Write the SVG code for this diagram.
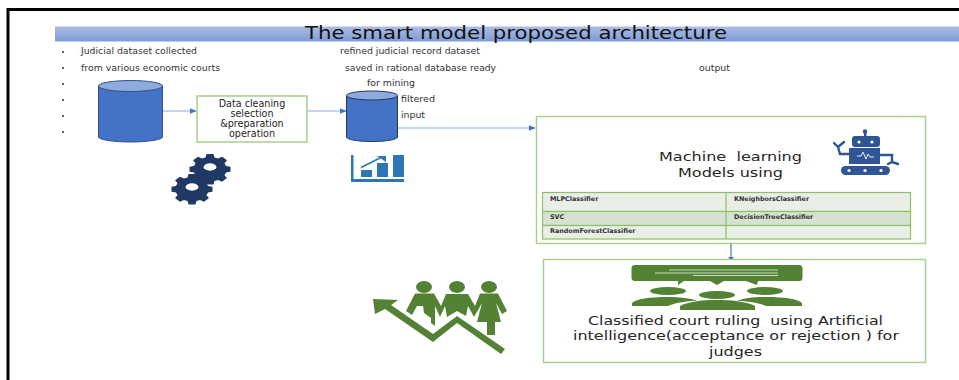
<svg xmlns="http://www.w3.org/2000/svg" width="959" height="380" viewBox="0 0 959 380">
<style>
text{font-family:"DejaVu Sans",sans-serif;fill:#262626;white-space:pre}
.s{font-size:8px;fill:#333}
.b{font-size:9.6px;text-anchor:middle}
.m{font-size:13px;text-anchor:middle}
.t{font-size:6.4px;font-weight:bold;fill:#333}
.box{fill:#fff;stroke:#a9d18e;stroke-width:1.5}
.conn{fill:none;stroke:#8faadc;stroke-width:1.2}
.cell{stroke:#8cc168;stroke-width:1.2}
</style>
<defs>
<linearGradient id="bar" x1="0" y1="0" x2="0" y2="1"><stop offset="0" stop-color="#adbde3"/><stop offset="1" stop-color="#7d9bd6"/></linearGradient>
<marker id="a" markerWidth="6" markerHeight="6" refX="5" refY="3" orient="auto"><path d="M0 .8L5.5 3L0 5.2z" fill="#4472c4"/></marker>
<path id="gear" d="M-3.500-17.500h7l1 4.500 3.500 1.500 4-2.500 5 5-2.500 4 1.500 3.500 4.500 1v7l-4.500 1-1.500 3.500 2.500 4-5 5-4-2.500-3.500 1.500-1 4.500h-7l-1-4.500-3.500-1.500-4 2.500-5-5 2.500-4-1.500-3.500-4.500-1v-7l4.500-1 1.500-3.500-2.500-4 5-5 4 2.500 3.500-1.500zM-6.500 0a6.500 5 0 0 0 13 0a6.500 5 0 0 0-13 0z" fill="#1f3864" fill-rule="evenodd"/>
</defs>
<rect width="959" height="380" fill="#fff"/>
<path d="M8 380V9.500H959" fill="none" stroke="#000" stroke-width="3"/>
<g id="title"><rect x="55" y="26.500" width="904" height="15" fill="url(#bar)"/><text x="305" y="38.500" font-size="18.500" textLength="422" lengthAdjust="spacingAndGlyphs" style="fill:#111">The smart model proposed architecture</text></g>
<g id="notes">
<text class="s" x="81" y="54" textLength="116" lengthAdjust="spacingAndGlyphs">Judicial dataset collected</text>
<text class="s" x="81" y="71" textLength="139" lengthAdjust="spacingAndGlyphs">from various economic courts</text>
<text class="s" x="340" y="54" textLength="140" lengthAdjust="spacingAndGlyphs">refined judicial record dataset</text>
<text class="s" x="345" y="71" textLength="151" lengthAdjust="spacingAndGlyphs">saved in rational database ready</text>
<text class="s" x="367" y="86" textLength="48" lengthAdjust="spacingAndGlyphs">for mining</text>
<text class="s" x="401" y="102" textLength="34" lengthAdjust="spacingAndGlyphs">filtered</text>
<text class="s" x="401" y="118" textLength="24" lengthAdjust="spacingAndGlyphs">input</text>
<text class="s" x="699" y="71" textLength="31" lengthAdjust="spacingAndGlyphs">output</text>
<g fill="#333"><circle cx="63" cy="52" r="1"/><circle cx="63" cy="68" r="1"/><circle cx="63" cy="84" r="1"/><circle cx="63" cy="100" r="1"/><circle cx="63" cy="116" r="1"/><circle cx="63" cy="132" r="1"/></g>
</g>
<g id="connectors">
<path class="conn" marker-end="url(#a)" d="M162 111H196"/>
<path class="conn" marker-end="url(#a)" d="M307 111H346"/>
<path class="conn" marker-end="url(#a)" d="M398 128H535"/>
<path class="conn" style="stroke:#4472c4" marker-end="url(#a)" d="M731 243V263"/>
</g>
<g id="db1"><path d="M98.500 86V137c0 2.500 14 5 32 5s32-2.500 32-5V86z" fill="#4472c4" stroke="#2f528f"/><ellipse cx="130.500" cy="86" rx="32" ry="5.500" fill="#8faadc" stroke="#2f528f"/></g>
<g id="clean"><rect class="box" x="197" y="96" width="110" height="46"/>
<text class="b" x="252" y="107">Data cleaning</text><text class="b" x="252" y="117">selection</text><text class="b" x="252" y="127">&amp;preparation</text><text class="b" x="252" y="137">operation</text></g>
<g id="db2"><path d="M346.500 95.500V137c0 2.500 11 4.500 25.500 4.500s25.500-2 25.500-4.500V95.500z" fill="#4472c4" stroke="#1f3864"/><ellipse cx="372" cy="95.500" rx="25.500" ry="4.500" fill="#8faadc" stroke="#1f3864"/></g>
<g id="gears"><use href="#gear" transform="translate(210 167) scale(1 .74)"/><use href="#gear" transform="translate(192 187) scale(1 .74)"/></g>
<g id="chart" fill="#2e75b6"><path d="M351 155h2.500v24H404v3H351z"/><rect x="361" y="170" width="11" height="7"/><rect x="377" y="163" width="11" height="14"/><rect x="393" y="155" width="11" height="22"/><path d="M361 167.500L381 157.500" stroke="#2e75b6" stroke-width="1.800" fill="none"/><path d="M377 156h9v6z"/></g>
<g id="ml"><rect class="box" x="536.500" y="116.500" width="389" height="127"/>
<text class="m" x="659" y="161" style="text-anchor:start" textLength="143" lengthAdjust="spacingAndGlyphs">Machine  learning</text><text class="m" x="678" y="177" style="text-anchor:start" textLength="105" lengthAdjust="spacingAndGlyphs">Models using</text>
<g id="robot" fill="#2f5597"><circle cx="865" cy="131.500" r="2.200"/><rect x="864" y="132" width="2.500" height="4"/><rect x="852" y="136" width="28" height="11" rx="3"/><rect x="849" y="148" width="31" height="16"/><rect x="841" y="166" width="49" height="9" rx="4.500"/>
<circle cx="859" cy="142" r="1.600" fill="#fff"/><circle cx="872" cy="142" r="1.600" fill="#fff"/>
<g fill="#fff"><circle cx="849" cy="170.500" r="1.600"/><circle cx="865" cy="170.500" r="1.600"/><circle cx="881" cy="170.500" r="1.600"/></g>
<path d="M857 156h4l2-4 3 7 2-5 2 3h4" fill="none" stroke="#fff" stroke-width=".9"/>
<path d="M849 154h-9l-2-7M838 147l-4-4M838 147l6-5M880 155h12v7M892 162l-4 2M892 162l6 2" fill="none" stroke="#2f5597" stroke-width="2.400" stroke-linecap="round"/></g>
<g class="table">
<rect class="cell" x="542.500" y="192.500" width="368" height="19" fill="#e9eee6"/>
<rect class="cell" x="542.500" y="211.500" width="368" height="14" fill="#d6e2d0"/>
<rect class="cell" x="542.500" y="225.500" width="368" height="13.500" fill="#e9eee6"/>
<path class="cell" d="M726 192.500V239" fill="none"/>
<text class="t" x="550" y="201">MLPClassifier</text><text class="t" x="734" y="201">KNeighborsClassifier</text>
<text class="t" x="550" y="219">SVC</text><text class="t" x="734" y="219">DecisionTreeClassifier</text>
<text class="t" x="550" y="233">RandomForestClassifier</text>
</g></g>
<g id="result"><rect class="box" x="543.500" y="259.500" width="382" height="103"/>
<g id="judges" fill="#548235"><path d="M635 265H799q3.500 0 3.500 3.500V277.500q0 3.500-3.500 3.500H758L757 285 746 281H724L717 285 710 281H684L678 285V281H635q-3.500 0-3.500-3.500V268.500q0-3.500 3.500-3.500z"/>
<ellipse cx="668" cy="291" rx="18" ry="4"/><ellipse cx="717" cy="295" rx="18" ry="4"/><ellipse cx="765" cy="291" rx="18" ry="4"/>
<path d="M632 306V303C636 299 650 297 667 297C680 297 690 298 697 301C685 301 675 303 668 306z"/><path d="M802 306V303C798 299 784 297 767 297C754 297 744 298 737 301C749 301 759 303 766 306z"/><path d="M680 310V306C690 301 703 300 717 300S745 301 755 306V310z"/>
<path d="M669 270H778M655 273H778M693 275.500H778" stroke="#c9d8bf" stroke-width="1"/></g>
<text class="m" x="588" y="325" style="text-anchor:start" textLength="295" lengthAdjust="spacingAndGlyphs">Classified court ruling  using Artificial</text><text class="m" x="573" y="340" style="text-anchor:start" textLength="326" lengthAdjust="spacingAndGlyphs">intelligence(acceptance or rejection ) for</text><text class="m" x="709" y="356" style="text-anchor:start" textLength="53" lengthAdjust="spacingAndGlyphs">judges</text></g>
<g id="people" fill="#548235">
<path d="M373 299L398 300L391 305L433 334L457 316L505 349L501 354L457 323L433 342L385 309L375 314z"/>
<ellipse cx="424" cy="287" rx="8" ry="6"/><ellipse cx="457" cy="287" rx="8" ry="6"/><ellipse cx="489" cy="287" rx="8" ry="6"/>
<path d="M415 293.500H434L441 306 446 294H468L475 306 480 293.500H498L507 311 502 314 496 303 501 322H495V335H487V322H477L482 303 474 317 468 306 466 316 457 311 447 317 445 306 440 317 435 306V326L431 323V318L424 313 423 306 417 306 412 315 406 311z"/>
</g>
</svg>
